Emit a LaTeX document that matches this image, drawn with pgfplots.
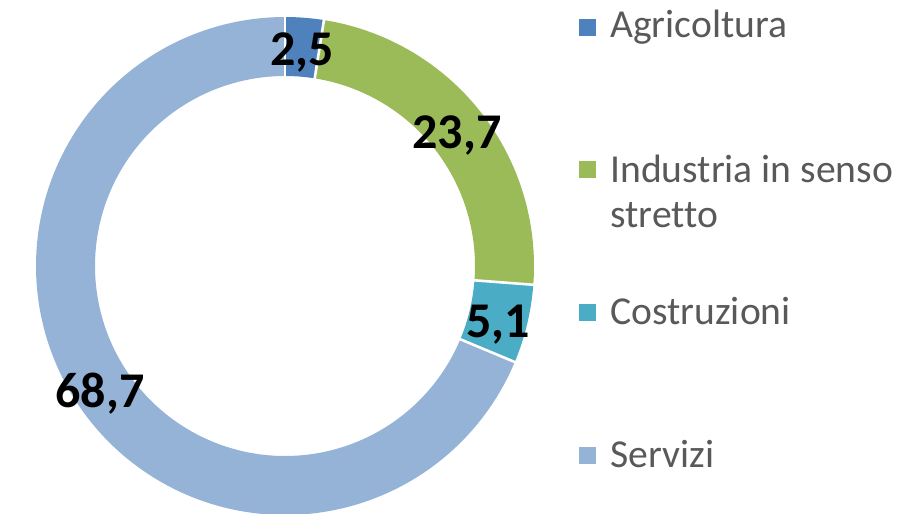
\documentclass[border=0pt]{standalone}
\usepackage{pgfplots}
\pgfplotsset{compat=1.18}
\usepackage{fontspec}
\setmainfont{Carlito}[Ligatures=NoCommon]
\definecolor{cAgr}{HTML}{4F81BD}
\definecolor{cInd}{HTML}{9BBB59}
\definecolor{cCos}{HTML}{4BACC6}
\definecolor{cSer}{HTML}{95B3D7}
\definecolor{legtext}{HTML}{595959}
% shares (percent)
\def\vAgr{2.5}
\def\vInd{23.7}
\def\vCos{5.1}
\def\vSer{68.7}
% geometry in pixel units
\def\cx{285}
\def\cy{266}
\def\rmid{219.5}
\begin{document}
\begin{tikzpicture}
\path[use as bounding box] (0,0) rectangle (450pt,-257pt);
\begin{axis}[
  at={(0,0)}, anchor=north west,
  scale only axis, width=450pt, height=257pt,
  xmin=0, xmax=900, ymin=0, ymax=514, y dir=reverse,
  hide axis, clip=false,
]
% sectors (clockwise from the top)
\pgfmathsetmacro{\aA}{90}
\pgfmathsetmacro{\aB}{\aA-3.6*\vAgr}
\pgfmathsetmacro{\aC}{\aB-3.6*\vInd}
\pgfmathsetmacro{\aD}{\aC-3.6*\vCos}
\pgfmathsetmacro{\aE}{\aD-3.6*\vSer}
\addplot[draw=cAgr, line width=29.5pt, domain=\aB:\aA, samples=20] ({\cx+\rmid*cos(x)},{\cy-\rmid*sin(x)});
\addplot[draw=cInd, line width=29.5pt, domain=\aC:\aB, samples=120] ({\cx+\rmid*cos(x)},{\cy-\rmid*sin(x)});
\addplot[draw=cCos, line width=29.5pt, domain=\aD:\aC, samples=40] ({\cx+\rmid*cos(x)},{\cy-\rmid*sin(x)});
\addplot[draw=cSer, line width=29.5pt, domain=\aE:\aD, samples=300] ({\cx+\rmid*cos(x)},{\cy-\rmid*sin(x)});
% white separators
\foreach \a in {\aA,\aB,\aC,\aD}{
  \addplot[draw=white, line width=1.3pt, domain=185:254, samples=2] ({\cx+x*cos(\a)},{\cy-x*sin(\a)});
}
% data labels
\begin{scope}[every node/.style={inner sep=0pt, anchor=base, font=\fontsize{25}{30}\selectfont\bfseries}]
\node at (axis cs:302,65) {2,5};
\node at (axis cs:457,148) {23,7};
\node at (axis cs:498,337) {5,1};
\node at (axis cs:100,407) {68,7};
\end{scope}
% legend
\fill[cAgr] (axis cs:579,18.5) rectangle (axis cs:596,35.5);
\fill[cInd] (axis cs:579,160.5) rectangle (axis cs:596,177.5);
\fill[cCos] (axis cs:579,303.5) rectangle (axis cs:596,320.5);
\fill[cSer] (axis cs:579,446.5) rectangle (axis cs:596,463.5);
\begin{scope}[every node/.style={inner sep=0pt, anchor=base west, text=legtext, font=\fontsize{19.8}{24}\selectfont}]
\node at (axis cs:610,37) {Agricoltura};
\node at (axis cs:610,182) {Industria in senso};
\node at (axis cs:610,227) {stretto};
\node at (axis cs:610,324) {Costruzioni};
\node at (axis cs:610,467) {Servizi};
\end{scope}
\end{axis}
\end{tikzpicture}
\end{document}
